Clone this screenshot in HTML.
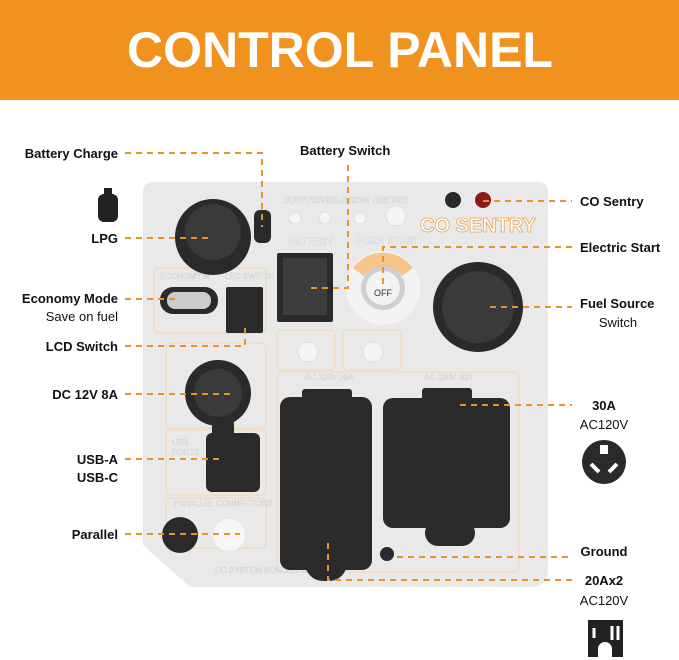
<!DOCTYPE html><html><head><style>body{margin:0;background:#fff}svg{display:block}</style></head><body>
<svg width="679" height="660" xmlns="http://www.w3.org/2000/svg" font-family="Liberation Sans, sans-serif">
<rect x="0" y="0" width="679" height="100" fill="#F0921E"/>
<text x="340" y="67" text-anchor="middle" font-size="50" font-weight="bold" fill="#fff">CONTROL PANEL</text>
<path d="M150 182 H538 Q548 182 548 192 V570 Q548 587 530 587 H190 L143 545 V192 Q143 182 153 182 Z" fill="#e9e9ea"/>
<g fill="none" stroke="#f3d8b8" stroke-width="1.2">
<rect x="154" y="268" width="112" height="65" rx="5"/><rect x="166" y="343" width="100" height="85" rx="5"/>
<rect x="166" y="430" width="100" height="65" rx="5"/><rect x="166" y="498" width="100" height="50" rx="5"/>
<rect x="277" y="330" width="58" height="40" rx="5"/><rect x="343" y="330" width="58" height="40" rx="5"/>
<rect x="277" y="372" width="242" height="200" rx="6"/></g>
<g font-size="8" fill="#fff" stroke="#bbb" stroke-width="0.3"><text x="283" y="203">OUTPUT</text><text x="314" y="203">OVERLOAD</text><text x="352" y="203">LOW OIL</text><text x="384" y="203">START</text>
<text x="288" y="245" font-size="10">BATTERY</text><text x="357" y="244" font-size="10">PUSH START</text><text x="160" y="279">ECONOMY M</text><text x="225" y="279">LED SWITCH</text>
<text x="174" y="506">PARALLEL CONNECTORS</text><text x="305" y="380">AC 120V 20A</text><text x="424" y="380">AC 120V 30A</text><text x="172" y="445">USB</text><text x="172" y="455">PORTS</text>
<text x="215" y="573">DC SYSTEM BONDED TO FRAME</text></g>
<text x="420" y="232" font-size="20" font-weight="bold" fill="#fff" stroke="#e8a54c" stroke-width="0.8">CO SENTRY</text>
<g fill="#f4f4f4" stroke="#ddd"><circle cx="295" cy="218" r="6"/><circle cx="325" cy="218" r="6"/><circle cx="360" cy="218" r="6"/><circle cx="396" cy="216" r="10"/><circle cx="308" cy="352" r="10"/><circle cx="373" cy="352" r="10"/></g>
<g fill="#2a2a2a">
<circle cx="213" cy="237" r="38"/><circle cx="213" cy="232" r="28" fill="#3a3a3a"/>
<rect x="254" y="210" width="17" height="33" rx="6"/>
<rect x="277" y="253" width="56" height="69" rx="2"/><rect x="283" y="258" width="44" height="57" fill="#3d3d3d"/>
<circle cx="383" cy="288" r="37" fill="#f3f3f3"/><path d="M353 268 A37 37 0 0 1 413 268 L402 276 A25 25 0 0 0 364 276Z" fill="#f6c58a"/><circle cx="383" cy="288" r="22" fill="#cfcfcf"/><circle cx="383" cy="288" r="17" fill="#f2f2f2"/>
<circle cx="478" cy="307" r="45"/><circle cx="478" cy="307" r="36" fill="#3a3a3a"/>
<rect x="160" y="287" width="58" height="27" rx="13"/><rect x="167" y="292" width="44" height="17" rx="8" fill="#ccc"/>
<rect x="226" y="287" width="37" height="46" rx="2"/>
<circle cx="218" cy="393" r="33"/><circle cx="218" cy="393" r="24" fill="#3a3a3a"/>
<rect x="206" y="433" width="54" height="59" rx="6"/><rect x="212" y="420" width="22" height="18" rx="4"/>
<rect x="280" y="397" width="92" height="173" rx="10"/><rect x="305" y="545" width="42" height="36" rx="18"/><rect x="302" y="389" width="50" height="12" rx="3"/>
<rect x="383" y="398" width="127" height="130" rx="10"/><rect x="422" y="388" width="50" height="12" rx="3"/><rect x="425" y="520" width="50" height="26" rx="13"/>
<circle cx="180" cy="535" r="18"/><circle cx="387" cy="554" r="7"/>
<circle cx="453" cy="200" r="8"/><circle cx="483" cy="200" r="8" fill="#8a1a1a"/>
</g>
<circle cx="229" cy="535" r="16" fill="#f6f6f6"/>
<g fill="#fff" font-size="9"><text x="375" y="287">ON</text><text x="374" y="296" fill="#333">OFF</text></g>
<g stroke="#E8922A" stroke-width="2" stroke-dasharray="6,5" fill="none">
<path d="M125 153 H262 V227"/><path d="M348 165 V288 H310"/><path d="M483 201 H572"/><path d="M572 247 H383 V288"/><path d="M490 307 H572"/><path d="M460 405 H572"/><path d="M397 557 H572"/><path d="M572 580 H328 V538"/>
<path d="M125 238 H210"/><path d="M125 299 H180"/><path d="M125 346 H245 V325"/><path d="M125 394 H232"/><path d="M125 459 H222"/><path d="M125 534 H240"/>
</g>
<g font-size="13" font-weight="bold" fill="#111">
<g text-anchor="end"><text x="118" y="158">Battery Charge</text><text x="118" y="243">LPG</text><text x="118" y="303">Economy Mode</text><text x="118" y="351">LCD Switch</text><text x="118" y="399">DC 12V 8A</text><text x="118" y="464">USB-A</text><text x="118" y="482">USB-C</text><text x="118" y="539">Parallel</text></g>
<text x="300" y="155">Battery Switch</text><text x="580" y="206">CO Sentry</text><text x="580" y="252">Electric Start</text><text x="580" y="308">Fuel Source</text>
<text x="604" y="410" text-anchor="middle">30A</text><text x="604" y="556" text-anchor="middle">Ground</text><text x="604" y="585" text-anchor="middle">20Ax2</text></g>
<g font-size="13" fill="#111"><text x="118" y="321" text-anchor="end">Save on fuel</text><text x="618" y="327" text-anchor="middle">Switch</text><text x="604" y="429" text-anchor="middle">AC120V</text><text x="604" y="605" text-anchor="middle">AC120V</text></g>
<rect x="104" y="188" width="8" height="6" fill="#222"/><rect x="98" y="194" width="20" height="28" rx="6" fill="#222"/>
<circle cx="604" cy="462" r="22" fill="#2a2a2a"/><rect x="600" y="445" width="8" height="9" fill="#fff"/><path d="M591 464 l8 8 M617 464 l-8 8" stroke="#fff" stroke-width="4"/>
<rect x="588" y="620" width="35" height="37" fill="#222"/><path d="M594 628 v10 M612 626 v14 M618 626 v14" stroke="#fff" stroke-width="3"/><path d="M598 657 v-8 a7 7 0 0 1 14 0 v8z" fill="#fff"/>
</svg></body></html>
